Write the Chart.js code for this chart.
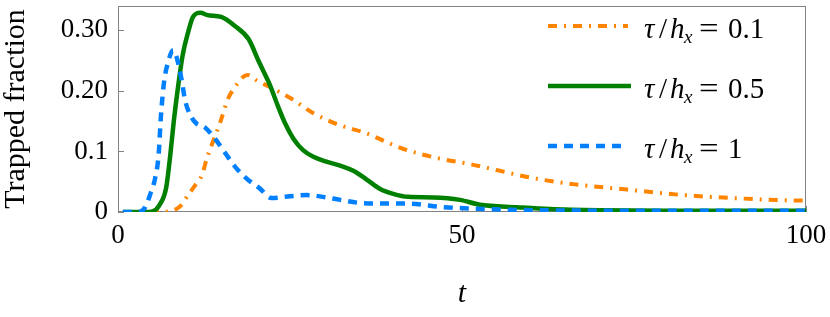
<!DOCTYPE html>
<html>
<head>
<meta charset="utf-8">
<script src="https://cdn.jsdelivr.net/npm/chart.js@4"></script>
<style>
  html, body { margin: 0; padding: 0; background: #fff; }
  #c { display: block; }
</style>
</head>
<body>
<canvas id="c" width="830" height="317"></canvas>
<script>
// ---- data ----
const tOrange = [1, 6, 7.3, 9, 10.2, 11.2, 12.2, 12.9, 13.6, 14.8, 16.0, 17.0, 18.2, 18.9, 20.2, 21.6, 23.8, 25.5, 28.4, 32.3, 36.1, 39.5, 41.5, 46.8, 51.2, 55.5, 60.3, 66.1, 74, 82.1, 89.4, 99.1, 100];
const yOrange = [0, 0, 0.001, 0.009, 0.028, 0.044, 0.061, 0.088, 0.110, 0.146, 0.187, 0.206, 0.223, 0.226, 0.217, 0.209, 0.196, 0.185, 0.163, 0.143, 0.130, 0.113, 0.104, 0.088, 0.079, 0.068, 0.056, 0.046, 0.037, 0.028, 0.023, 0.019, 0.019];

const tGreen = [0.7, 4, 5, 6, 7, 7.6, 8.1, 8.7, 9.4, 10.2, 10.9, 12, 13, 15, 17, 19, 20.4, 22.1, 23.1, 24.3, 25.5, 26.9, 28.4, 30.3, 32.7, 34.2, 36.1, 38.1, 40, 42.2, 45.8, 49.7, 52.6, 58, 62.8, 70, 80, 100];
const yGreen = [0, 0, 0.001, 0.011, 0.040, 0.094, 0.149, 0.204, 0.259, 0.297, 0.322, 0.329, 0.325, 0.322, 0.307, 0.285, 0.250, 0.209, 0.179, 0.146, 0.121, 0.102, 0.091, 0.083, 0.075, 0.068, 0.054, 0.038, 0.030, 0.025, 0.024, 0.020, 0.012, 0.008, 0.005, 0.003, 0.002, 0.002];

const tBlue = [0.7, 3, 3.9, 4.65, 5.4, 5.9, 6.25, 6.7, 7.3, 8.0, 8.5, 9.3, 9.7, 10.5, 11.4, 12.6, 13.9, 15.6, 17.0, 18.7, 20.6, 22.3, 25.0, 27.4, 29.8, 32.3, 35.2, 39.1, 42, 47.3, 53, 60, 80, 100];
const yBlue = [0, 0, 0.007, 0.028, 0.056, 0.094, 0.160, 0.215, 0.248, 0.267, 0.256, 0.215, 0.187, 0.160, 0.146, 0.140, 0.124, 0.097, 0.075, 0.055, 0.039, 0.023, 0.026, 0.028, 0.025, 0.020, 0.015, 0.014, 0.014, 0.008, 0.005, 0.003, 0.002, 0.002];

const seriesNames = ['0.1', '0.5', '1'];
const yTickValues = [0, 0.1, 0.2, 0.3];
const yTickLabels = ['0', '0.1', '0.20', '0.30'];
const xTickValues = [0, 50, 100];
const xTickLabels = ['0', '50', '100'];

// ---- styling ----
const FONT = '"Liberation Serif", "DejaVu Serif", serif';
const colors = ['rgb(255,132,0)', 'rgb(0,128,0)', 'rgb(0,128,255)'];
const dashes = [[9, 7, 2, 7], [], [9, 7]];
const widths = [4, 4.5, 4.5];

const pts = (ts, ys) => ts.map((t, i) => ({ x: t, y: ys[i] }));
const seriesData = [pts(tOrange, yOrange), pts(tGreen, yGreen), pts(tBlue, yBlue)];

const datasets = seriesData.map((d, i) => ({
  label: seriesNames[i],
  data: d,
  borderColor: colors[i],
  borderWidth: widths[i],
  borderDash: dashes[i],
  borderCapStyle: 'butt',
  borderJoinStyle: 'round',
  pointRadius: 0,
  fill: false,
  cubicInterpolationMode: 'monotone',
  order: 3 - i
}));

const framePlugin = {
  id: 'frame',
  beforeDatasetsDraw(chart) {
    const { ctx, chartArea: a, scales: { x, y } } = chart;
    ctx.save();
    ctx.strokeStyle = 'rgb(130,130,130)';
    ctx.lineWidth = 1;
    ctx.strokeRect(a.left + 0.5, a.top + 0.5, a.right - a.left - 1, a.bottom - a.top - 1);
    ctx.beginPath();
    yTickValues.forEach(v => {
      const py = Math.round(y.getPixelForValue(v)) + 0.5;
      ctx.moveTo(a.left, py); ctx.lineTo(a.left + 6, py);
    });
    xTickValues.forEach(v => {
      const px = Math.round(x.getPixelForValue(v)) + 0.5;
      ctx.moveTo(px, a.bottom); ctx.lineTo(px, a.bottom - 6);
    });
    ctx.stroke();
    ctx.restore();
  }
};

const legendPlugin = {
  id: 'mathLegend',
  afterDraw(chart) {
    const ctx = chart.ctx;
    const rows = [26, 86, 146];
    const lineX0 = 548, lineX1 = 628;
    ctx.save();
    rows.forEach((ry, i) => {
      ctx.strokeStyle = colors[i];
      ctx.lineWidth = widths[i];
      ctx.setLineDash(dashes[i]);
      ctx.lineCap = 'butt';
      ctx.beginPath();
      ctx.moveTo(lineX0, ry);
      ctx.lineTo(i === 1 ? lineX1 + 3 : lineX1, ry);
      ctx.stroke();
      ctx.setLineDash([]);
      const base = ry + 11.5;
      ctx.fillStyle = '#000';
      ctx.textBaseline = 'alphabetic';
      ctx.textAlign = 'left';
      ctx.font = 'italic 29px ' + FONT;
      ctx.fillText('τ', 644, base);
      ctx.font = '29px ' + FONT;
      ctx.fillText('/', 659, base);
      ctx.font = 'italic 29px ' + FONT;
      ctx.fillText('h', 670, base);
      ctx.font = 'italic 19px ' + FONT;
      ctx.fillText('x', 684, base + 5);
      ctx.save();
      ctx.translate(699, base);
      ctx.scale(1.2, 1);
      ctx.font = '29px ' + FONT;
      ctx.fillText('=', 0, 0);
      ctx.restore();
      ctx.font = '29px ' + FONT;
      ctx.fillText(seriesNames[i], 728, base);
    });
    ctx.restore();
  }
};

new Chart(document.getElementById('c'), {
  type: 'line',
  data: { datasets },
  options: {
    responsive: false,
    animation: false,
    devicePixelRatio: 1,
    layout: { padding: { top: 6, right: 24, left: 0, bottom: 0 } },
    plugins: { legend: { display: false }, tooltip: { enabled: false } },
    scales: {
      x: {
        type: 'linear', min: 0, max: 100,
        grid: { display: false, drawTicks: false },
        border: { display: false },
        afterBuildTicks: s => { s.ticks = xTickValues.map(v => ({ value: v })); },
        afterFit: s => { s.height = 105; s.paddingLeft = 0; s.paddingRight = 0; },
        ticks: {
          padding: 8,
          color: '#000',
          font: { family: FONT, size: 27 },
          maxRotation: 0,
          callback: (v) => xTickLabels[xTickValues.indexOf(v)]
        },
        title: {
          display: true, text: 't', color: '#000',
          font: { family: FONT, size: 30, style: 'italic' },
          padding: { top: 0, bottom: 5 }
        }
      },
      y: {
        type: 'linear', min: 0, max: 0.34,
        grid: { display: false, drawTicks: false },
        border: { display: false },
        afterBuildTicks: s => { s.ticks = yTickValues.map(v => ({ value: v })); },
        afterFit: s => { s.width = 118; s.paddingTop = 0; s.paddingBottom = 0; },
        ticks: {
          padding: 10,
          color: '#000',
          font: { family: FONT, size: 27 },
          callback: (v) => yTickLabels[yTickValues.indexOf(v)]
        },
        title: {
          display: true, text: 'Trapped fraction', color: '#000',
          font: { family: FONT, size: 30, lineHeight: 1.07 },
          padding: { top: 0, bottom: 0 }
        }
      }
    }
  },
  plugins: [framePlugin, legendPlugin]
});
</script>
</body>
</html>
